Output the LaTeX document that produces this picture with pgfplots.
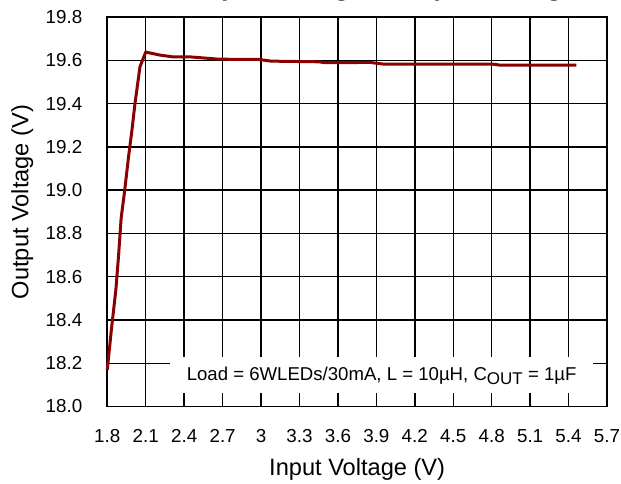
\documentclass[border=0pt]{standalone}
\usepackage{fontspec}
\setmainfont{Liberation Sans}
\usepackage{pgfplots}
\pgfplotsset{compat=1.18}
\definecolor{curvered}{RGB}{139,0,0}

\begin{document}
\begin{tikzpicture}
\begin{axis}[
    name=ax,
    scale only axis,
    width=249.85pt, height=194.75pt,
    xmin=1.8, xmax=5.7, ymin=18, ymax=19.8,
    clip=false,
    xtick={1.8,2.1,2.4,2.7,3.0,3.3,3.6,3.9,4.2,4.5,4.8,5.1,5.4,5.7},
    xticklabels={1.8,2.1,2.4,2.7,3,3.3,3.6,3.9,4.2,4.5,4.8,5.1,5.4,5.7},
    ytick={18.0,18.2,18.4,18.6,18.8,19.0,19.2,19.4,19.6,19.8},
    yticklabel style={/pgf/number format/fixed, /pgf/number format/fixed zerofill,
        /pgf/number format/precision=1},
    /pgf/number format/assume math mode=true,
    grid=major,
    major grid style={black, line width=0.7pt},
    axis line style={black, line width=0.8pt},
    major tick length=0pt,
    tick label style={font=\fontsize{9.4}{10}\selectfont, inner sep=0pt},
    xticklabel style={anchor=center, yshift=-14.75pt},
    yticklabel style={anchor=east, xshift=-12.3pt},
    xlabel={Input Voltage (V)},
    ylabel={Output Voltage (V)},
    label style={font=\fontsize{11.8}{14}\selectfont},
    xlabel style={at={(axis description cs:0.5,-0.1605)}, anchor=center},
    ylabel style={at={(axis description cs:-0.170,0.525)}, anchor=center},
]
\addplot[curvered, line width=1.5pt, line join=round] coordinates {
    (1.800,18.170) (1.831,18.350) (1.867,18.540) (1.887,18.690)
    (1.908,18.870) (1.934,18.990) (1.965,19.150) (1.993,19.280)
    (2.016,19.400) (2.055,19.570) (2.100,19.638) (2.210,19.624)
    (2.310,19.616) (2.440,19.616) (2.670,19.605) (2.980,19.604)
    (3.080,19.596) (3.450,19.593) (3.500,19.589) (3.850,19.590)
    (3.960,19.582) (4.810,19.582) (4.860,19.578) (5.460,19.578)
};
% note box hides the grid behind it
\fill[white] (rel axis cs:0.1255,0.0347) rectangle (rel axis cs:0.972,0.127);
\node[font=\fontsize{9.3}{11}\selectfont, inner sep=0pt] at (rel axis cs:0.549,0.078)
    {Load = 6WLEDs/30mA, L = 10µH, C{\fontsize{8.5}{10}\selectfont\raisebox{-0.45ex}{OUT}} = 1µF};
% title, mostly cut off by the page edge as in the original
\node[anchor=base, yshift=10.9pt, font=\bfseries\fontsize{13.4}{16}\selectfont]
    at (rel axis cs:0.538,1) {Output Voltage vs Input Voltage};
\end{axis}
\pgfresetboundingbox
\path[use as bounding box] ([shift={(-53.65pt,-38.25pt)}]ax.south west)
    rectangle ([shift={(7pt,8.5pt)}]ax.north east);
\end{tikzpicture}
\end{document}
